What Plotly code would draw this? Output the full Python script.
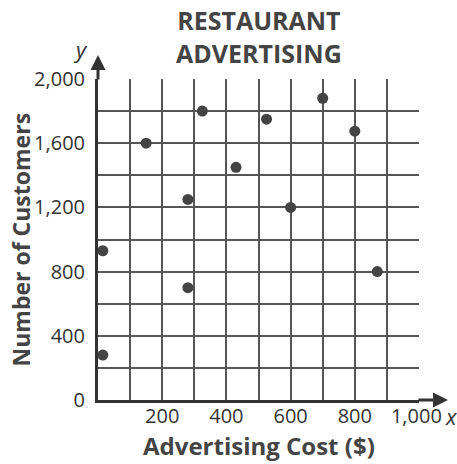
import plotly.graph_objects as go

# Data
cost = [15, 15, 150, 280, 280, 325, 430, 525, 600, 700, 800, 870]
customers = [930, 280, 1600, 1250, 700, 1800, 1450, 1750, 1200, 1880, 1675, 800]

x_grid = [0, 100, 200, 300, 400, 500, 600, 700, 800, 900, 1000]
x_labels = ["", "", "200", "", "400", "", "600", "", "800", "", "1,000"]
y_grid = [0, 200, 400, 600, 800, 1000, 1200, 1400, 1600, 1800, 2000]
y_labels = ["0", "", "400", "", "800", "", "1,200", "", "1,600", "", "2,000"]

title_text = "RESTAURANT<br>ADVERTISING"
x_title = "Advertising Cost ($)"
y_title = "Number of Customers"

font_fam = "Open Sans, DejaVu Sans, sans-serif"
grid_col = "#555555"
axis_col = "#333333"

# last x label sits a little left, clear of the axis letter
x_text = [t + "\u00a0" if t == "1,000" else t for t in x_labels]

fig = go.Figure()
fig.add_trace(go.Scatter(
    x=cost, y=customers, mode="markers",
    marker=dict(size=11, color="#444444"),
    cliponaxis=False, showlegend=False,
))

fig.update_layout(
    width=457, height=464,
    margin=dict(l=98, r=38, t=79, b=64, autoexpand=False),
    paper_bgcolor="white", plot_bgcolor="white",
    font=dict(family=font_fam, color="#333333"),
    showlegend=False,
)
fig.update_xaxes(
    range=[0, 1000], tickmode="array", tickvals=x_grid, ticktext=x_text,
    showgrid=True, gridcolor=grid_col, gridwidth=1.6,
    showline=True, linecolor=axis_col, linewidth=3,
    zeroline=False, ticks="", tickfont=dict(size=20, color="#333333"),
    ticklabelstandoff=-4,
    fixedrange=True, automargin=False,
)
fig.update_yaxes(
    range=[0, 2000], tickmode="array", tickvals=y_grid, ticktext=y_labels,
    showgrid=True, gridcolor=grid_col, gridwidth=1.6,
    showline=True, linecolor=axis_col, linewidth=3,
    zeroline=False, ticks="outside", ticklen=6, tickcolor="rgba(0,0,0,0)",
    tickfont=dict(size=20, color="#333333"),
    fixedrange=True, automargin=False,
)

ann = []
# title
ann.append(dict(text="<b>" + title_text.replace("<br>", "</b><br><b>") + "</b>",
                xref="paper", yref="paper", x=0.5, y=1 + 78 / 321,
                xanchor="center", yanchor="top", showarrow=False,
                font=dict(size=25, family=font_fam, color="#444444")))
# axis titles
ann.append(dict(text="<b>" + x_title + "</b>", xref="paper", yref="paper",
                x=0.5, y=-27 / 321, xanchor="center", yanchor="top",
                showarrow=False, font=dict(size=24, family=font_fam, color="#444444")))
ann.append(dict(text="<b>" + y_title + "</b>", xref="paper", yref="paper",
                x=-78 / 321, y=0.5, xanchor="center", yanchor="middle",
                textangle=-90, showarrow=False,
                font=dict(size=23, family=font_fam, color="#444444")))
# axis arrows
ann.append(dict(text="", xref="paper", yref="paper", x=0, y=1 + 24 / 321,
                ax=0, ay=26, showarrow=True, arrowhead=2, arrowsize=1,
                arrowwidth=3, arrowcolor=axis_col, standoff=0))
ann.append(dict(text="", xref="paper", yref="paper", x=1 + 29 / 321, y=0,
                ax=-31, ay=0, showarrow=True, arrowhead=2, arrowsize=1,
                arrowwidth=3, arrowcolor=axis_col, standoff=0))
# axis letters
ann.append(dict(text="<i>y</i>", xref="paper", yref="paper", x=-18 / 321, y=1 + 30 / 321,
                xanchor="center", yanchor="middle", showarrow=False,
                font=dict(size=22, family=font_fam, color="#333333")))
ann.append(dict(text="<i>x</i>", xref="paper", yref="paper", x=1 + 33 / 321, y=-16 / 321,
                xanchor="center", yanchor="middle", showarrow=False,
                font=dict(size=22, family=font_fam, color="#333333")))
fig.update_layout(annotations=ann)

fig.write_html("out.html", post_script="document.body.style.margin='0';",
               config={"displayModeBar": False})
